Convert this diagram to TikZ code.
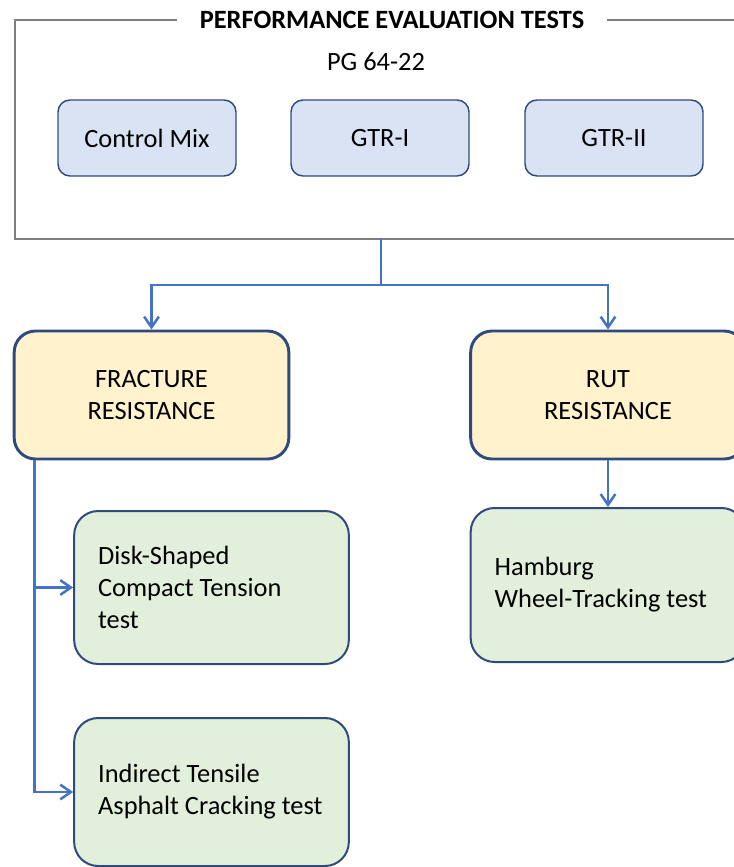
\documentclass[tikz,border=0pt]{standalone}
\usepackage{fontspec}
\setmainfont{Carlito}
\usetikzlibrary{arrows.meta}
\definecolor{boxline}{HTML}{2F4A7C}
\definecolor{mixfill}{HTML}{DAE3F3}
\definecolor{groupfill}{HTML}{FFF2CC}
\definecolor{testfill}{HTML}{E2EFDA}
\definecolor{linkblue}{HTML}{4472C4}
\definecolor{framegray}{HTML}{7F7F7F}
\begin{document}
\begin{tikzpicture}[x=0.75pt,y=0.75pt,yscale=-1,xscale=1,
    every node/.style={font=\fontsize{19.8}{24}\selectfont},
    mixbox/.style={draw=boxline, line width=1.1pt, fill=mixfill, rounded corners=9pt, minimum width=133.5pt, minimum height=57pt},
    groupbox/.style={draw=boxline, line width=2.2pt, fill=groupfill, rounded corners=16pt, minimum width=206pt, minimum height=96pt, align=flush center},
    testbox/.style={draw=boxline, line width=1.5pt, fill=testfill, rounded corners=18pt, text width=170pt, inner xsep=18pt, align=flush left},
    link/.style={draw=linkblue, line width=1.9pt},
    arrow/.style={link, -{Straight Barb[length=8pt,width=11pt]}}]
        \useasboundingbox (0,0) rectangle (734,867);
        \clip (0,0) rectangle (734,867);

        % Panel title and frame
        \node (title) at (392,20) [inner xsep=17pt, font=\fontsize{19.8}{24}\selectfont\bfseries] {PERFORMANCE EVALUATION TESTS};
        \draw [framegray, line width=1.9pt] (title.west) -- (15,20) -- (15,239) -- (745,239) -- (745,20) -- (title.east);
        % Binder
        \node (binder) at (376,62) {PG 64-22};

        % Mixes
        \node (control) at (147,138) [mixbox] {Control Mix};
        \node (gtr1) at (380,138) [mixbox] {GTR-I};
        \node (gtr2) at (614,138) [mixbox] {GTR-II};

        % Property groups
        \node (frac) at (151.5,395) [groupbox] {FRACTURE\\RESISTANCE};
        \node (rut) at (608,395) [groupbox] {RUT\\RESISTANCE};

        % Tests
        \node (dsct) at (211.5,587.5) [testbox, minimum height=114.75pt] {Disk-Shaped\\Compact Tension\\test};
        \node (itac) at (211.5,792) [testbox, minimum height=111pt] {Indirect Tensile\\Asphalt Cracking test};
        \node (hwt) at (608,585) [testbox, minimum height=115.5pt] {Hamburg\\Wheel-Tracking test};

        % Connectors
        \coordinate (panel) at (381,239);
        \coordinate (split) at (381,285);
        \coordinate (fork) at ([xshift=16.5pt]frac.south west);
        \draw [arrow] (panel) -- (split) -| (frac.north);
        \draw [arrow] (split) -| (rut.north);
        \draw [arrow] (fork) |- (dsct.west);
        \draw [arrow] (fork) |- (itac.west);
        \draw [arrow] (rut) -- (hwt);
\end{tikzpicture}
\end{document}
